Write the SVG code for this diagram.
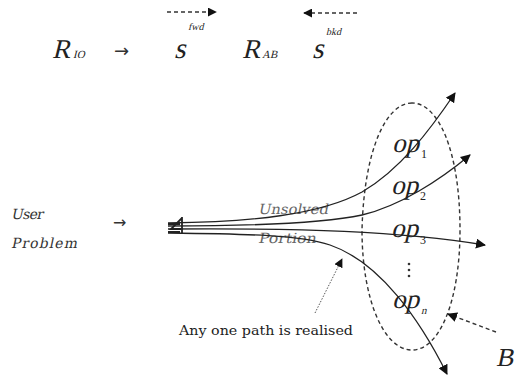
<svg xmlns="http://www.w3.org/2000/svg" width="519" height="381" viewBox="0 0 519 381">
<defs>
<style>
.mth{font-family:'Liberation Serif',serif;fill:#222}
.sym{font-family:'DejaVu Sans',sans-serif;fill:#333}
.lbl{font-family:'DejaVu Serif',serif;fill:#333}
.gry{font-family:'DejaVu Serif',serif;fill:#666}
.cap{font-family:'DejaVu Serif',serif;fill:#222}
.path{fill:none;stroke:#222;stroke-width:1.3}
.dash{fill:none;stroke:#333;stroke-width:1.4;stroke-dasharray:4 3}
</style>
<marker id="ah" viewBox="0 0 10 10" refX="9" refY="5" markerWidth="9" markerHeight="9" markerUnits="userSpaceOnUse" orient="auto"><path d="M0,0 L10,5 L0,10 Z" fill="#111"/></marker>
<marker id="ah2" viewBox="0 0 10 10" refX="9" refY="5" markerWidth="10" markerHeight="10" markerUnits="userSpaceOnUse" orient="auto"><path d="M0,0 L10,5 L0,10 Z" fill="#111"/></marker>
</defs>
<rect width="519" height="381" fill="#fff"/>

<g id="formula">
<line x1="167" y1="12" x2="216" y2="12" class="dash" stroke-width="1.2" marker-end="url(#ah)"/>
<line x1="357" y1="13" x2="304" y2="13" class="dash" stroke-width="1.2" marker-end="url(#ah)"/>
<text transform="translate(52,58) skewX(-14)" class="mth" font-size="27">R</text>
<text transform="translate(73,58) skewX(-14)" class="mth" font-size="11">IO</text>
<text x="114" y="57" class="sym" font-size="18">→</text>
<text transform="translate(174,58) skewX(-14)" class="mth" font-size="29">s</text>
<text transform="translate(188,30) skewX(-14)" class="mth" font-size="10">fwd</text>
<text transform="translate(242,58) skewX(-14)" class="mth" font-size="27">R</text>
<text transform="translate(262,58) skewX(-14)" class="mth" font-size="11">AB</text>
<text transform="translate(312,58) skewX(-14)" class="mth" font-size="29">s</text>
<text transform="translate(326,35) skewX(-14)" class="mth" font-size="10">bkd</text>
</g>

<g id="user-problem">
<text transform="translate(11,219) skewX(-12)" class="lbl" font-size="14" textLength="32">User</text>
<text transform="translate(11,248) skewX(-12)" class="lbl" font-size="14" textLength="66">Problem</text>
<text x="113" y="228" class="sym" font-size="16">→</text>
</g>

<g id="origin">
<path d="M168,224 L180,224 M168,232 L180,232 M182,217 L182,234 M182,218 L171,229 L181,229" fill="none" stroke="#222" stroke-width="1.8"/>
</g>

<g id="boundary-B">
<path d="M412,103 C386,103 364,150 362,230 C362,300 384,350 412,350 C440,350 460,300 460,230 C460,150 438,103 412,103 Z" class="dash"/>
<text transform="translate(496,366) skewX(-12)" class="mth" font-size="26">B</text>
</g>

<g id="labels">
<text transform="translate(258,214) skewX(-12)" class="gry" font-size="14" textLength="70" lengthAdjust="spacingAndGlyphs">Unsolved</text>
<text transform="translate(258,243) skewX(-12)" class="gry" font-size="14" textLength="58" lengthAdjust="spacingAndGlyphs">Portion</text>
<text transform="translate(392,152) skewX(-14)" class="mth" font-size="27">op</text>
<text x="421" y="158" class="mth" font-size="12">1</text>
<text transform="translate(391,194) skewX(-14)" class="mth" font-size="27">op</text>
<text x="420" y="200" class="mth" font-size="12">2</text>
<text transform="translate(391,237) skewX(-14)" class="mth" font-size="27">op</text>
<text x="420" y="244" class="mth" font-size="12">3</text>
<text transform="translate(392,308) skewX(-14)" class="mth" font-size="27">op</text>
<text transform="translate(421,314) skewX(-14)" class="mth" font-size="11">n</text>
<circle cx="409" cy="264" r="1.3" fill="#333"/>
<circle cx="409" cy="270" r="1.3" fill="#333"/>
<circle cx="409" cy="276" r="1.3" fill="#333"/>
<text x="179" y="335" class="cap" font-size="12.5" textLength="174" lengthAdjust="spacingAndGlyphs">Any one path is realised</text>
</g>

<g id="connectors">
<path class="path" d="M168,223 C250,222 320,215 362,192 C400,170 430,130 455,93" marker-end="url(#ah2)"/>
<path class="path" d="M168,226 C260,226 330,222 362,215 C400,206 440,180 470,155" marker-end="url(#ah2)"/>
<path class="path" d="M168,229 C300,228 400,231 485,245" marker-end="url(#ah2)"/>
<path class="path" d="M168,233 C250,234 300,235 330,245 C380,262 420,320 447,374" marker-end="url(#ah2)"/>
<line x1="315" y1="313" x2="342" y2="259" fill="none" stroke="#555" stroke-width="1" stroke-dasharray="1.5 1.5" marker-end="url(#ah)"/>
<line x1="496" y1="332" x2="448" y2="314" class="dash" stroke-width="1.3" marker-end="url(#ah2)"/>
</g>
</svg>
